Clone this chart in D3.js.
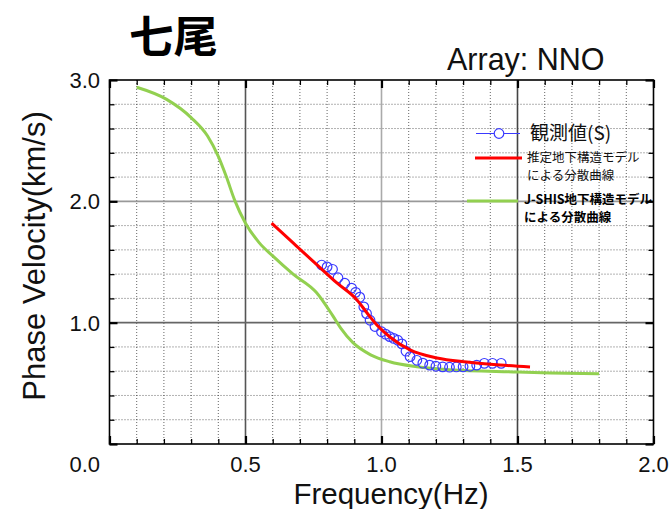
<!DOCTYPE html>
<html>
<head>
<meta charset="utf-8">
<script src="https://cdn.jsdelivr.net/npm/d3@7"></script>
<style>
  html, body { margin: 0; padding: 0; background: #fff; }
  svg { display: block; }
</style>
</head>
<body>
<svg id="chart" width="672" height="509"></svg>
<script>
// Observed phase velocities (S), frequency in Hz, velocity in km/s
const observedFreq = [0.78, 0.80, 0.82, 0.84, 0.865, 0.89, 0.905, 0.92, 0.935, 0.945, 0.958, 0.976,
  1.0, 1.015, 1.03, 1.045, 1.06, 1.075, 1.09, 1.105, 1.13, 1.152, 1.177, 1.2, 1.225, 1.25,
  1.275, 1.30, 1.325, 1.35, 1.378, 1.408, 1.44];
const observedVel = [1.475, 1.46, 1.44, 1.37, 1.325, 1.285, 1.25, 1.21, 1.13, 1.075, 1.02, 0.968,
  0.925, 0.905, 0.885, 0.87, 0.855, 0.825, 0.765, 0.72, 0.69, 0.666, 0.65, 0.641, 0.636, 0.633,
  0.635, 0.636, 0.641, 0.65, 0.665, 0.665, 0.665];

// Dispersion curve of the estimated subsurface model
const modelFreq = [0.596, 0.675, 0.763, 0.836, 0.91, 0.947, 0.983, 1.031, 1.105, 1.204, 1.314, 1.436, 1.546];
const modelVel  = [1.82, 1.657, 1.476, 1.327, 1.187, 1.08, 0.981, 0.882, 0.775, 0.709, 0.676, 0.651, 0.635];

// Dispersion curve of the J-SHIS subsurface model
const jshisFreq = [0.10, 0.21, 0.30, 0.36, 0.40, 0.43, 0.46, 0.50, 0.55, 0.60, 0.675, 0.76, 0.82,
  0.85, 0.895, 0.96, 1.03, 1.13, 1.25, 1.50, 1.62, 1.80];
const jshisVel  = [2.94, 2.84, 2.69, 2.54, 2.37, 2.20, 2.01, 1.82, 1.66, 1.55, 1.40, 1.25, 1.06,
  0.955, 0.835, 0.735, 0.678, 0.637, 0.612, 0.594, 0.586, 0.578];

// The shared 0.0 at the lower-left corner is drawn once, with the velocity labels
const xTickValues = [0.5, 1.0, 1.5, 2.0];
const yTickValues = [0.0, 1.0, 2.0, 3.0];
const titleText = "七尾";
const arrayText = "Array: NNO";
const xTitle = "Frequency(Hz)";
const yTitle = "Phase Velocity(km/s)";
const legendLabels = [["観測値(S)"], ["推定地下構造モデル", "による分散曲線"], ["J-SHIS地下構造モデル", "による分散曲線"]];

const svg = d3.select("#chart");
const pLeft = 109.5, pRight = 653.5, pTop = 80, pBottom = 444;
const x = d3.scaleLinear().domain([0, 2]).range([pLeft, pRight]);
const y = d3.scaleLinear().domain([0, 3]).range([pBottom, pTop]);

svg.append("rect").attr("width", 672).attr("height", 509).attr("fill", "#fff");

// Dotted minor grid
const isHalf = v => Math.abs(v * 2 - Math.round(v * 2)) < 1e-6;
const isWhole = v => Math.abs(v - Math.round(v)) < 1e-6;
const minorX = d3.range(1, 20).map(i => i / 10).filter(v => !isHalf(v));
const minorY = d3.range(1, 15).map(i => i / 5).filter(v => !isWhole(v));
const grid = svg.append("g");
grid.selectAll(".mx").data(minorX).join("line")
  .attr("x1", d => x(d)).attr("x2", d => x(d)).attr("y1", pTop).attr("y2", pBottom)
  .attr("stroke", "#333").attr("stroke-width", 1).attr("stroke-dasharray", "1,2").attr("opacity", 0.75);
grid.selectAll(".my").data(minorY).join("line")
  .attr("y1", d => y(d)).attr("y2", d => y(d)).attr("x1", pLeft).attr("x2", pRight)
  .attr("stroke", "#333").attr("stroke-width", 1).attr("stroke-dasharray", "1,2").attr("opacity", 0.75);

// Solid major grid
const majorX = [{v: 0.5, c: "#555"}, {v: 1.0, c: "#aaa"}, {v: 1.5, c: "#444"}];
const majorY = [{v: 1.0, c: "#666"}, {v: 2.0, c: "#999"}];
grid.selectAll(".gx").data(majorX).join("line")
  .attr("x1", d => x(d.v)).attr("x2", d => x(d.v)).attr("y1", pTop).attr("y2", pBottom)
  .attr("stroke", d => d.c).attr("stroke-width", 1.6);
grid.selectAll(".gy").data(majorY).join("line")
  .attr("y1", d => y(d.v)).attr("y2", d => y(d.v)).attr("x1", pLeft).attr("x2", pRight)
  .attr("stroke", d => d.c).attr("stroke-width", 1.6);

// Curves
const line = d3.line().x(d => x(d[0])).y(d => y(d[1])).curve(d3.curveMonotoneX);
svg.append("path").datum(d3.zip(jshisFreq, jshisVel)).attr("d", line)
  .attr("fill", "none").attr("stroke", "#92d050").attr("stroke-width", 3);

svg.append("g").selectAll("circle").data(d3.zip(observedFreq, observedVel)).join("circle")
  .attr("cx", d => x(d[0])).attr("cy", d => y(d[1])).attr("r", 4.8)
  .attr("fill", "none").attr("stroke", "#3a3aff").attr("stroke-width", 1.2);

svg.append("path").datum(d3.zip(modelFreq, modelVel)).attr("d", line)
  .attr("fill", "none").attr("stroke", "#ff0000").attr("stroke-width", 3);

// Frame with inward ticks on all sides
const xTickAll = d3.range(0, 21).map(i => i / 10);
const yTickAll = d3.range(0, 16).map(i => i / 5);
const axes = [
  {ax: d3.axisBottom(x).tickValues(xTickAll), tr: `translate(0,${pBottom})`, major: isHalf, dir: "y2"},
  {ax: d3.axisTop(x).tickValues(xTickAll), tr: `translate(0,${pTop})`, major: isHalf, dir: "y2"},
  {ax: d3.axisLeft(y).tickValues(yTickAll), tr: `translate(${pLeft},0)`, major: isWhole, dir: "x2"},
  {ax: d3.axisRight(y).tickValues(yTickAll), tr: `translate(${pRight},0)`, major: isWhole, dir: "x2"}
];
axes.forEach(a => {
  a.ax.tickFormat("").tickSizeInner(-5).tickSizeOuter(0);
  const g = svg.append("g").attr("transform", a.tr).call(a.ax);
  g.select(".domain").remove();
  g.selectAll(".tick line").attr("stroke", "#000").attr("stroke-width", 1.3);
  g.selectAll(".tick").filter(d => a.major(d)).select("line")
    .attr("stroke-width", 2.2)
    .attr(a.dir, function() { return +d3.select(this).attr(a.dir) * 1.6; });
});
svg.append("rect").attr("x", pLeft).attr("y", pTop).attr("width", pRight - pLeft).attr("height", pBottom - pTop)
  .attr("fill", "none").attr("stroke", "#000").attr("stroke-width", 1.6);

// Tick labels
const tickFont = "'Liberation Sans', Arial, sans-serif";
svg.append("g").selectAll("text").data(xTickValues).join("text")
  .attr("x", d => x(d)).attr("y", 472).attr("text-anchor", "middle")
  .attr("font-family", tickFont).attr("font-size", 22).attr("fill", "#111")
  .text(d => d3.format(".1f")(d));
svg.append("g").selectAll("text").data(yTickValues).join("text")
  .attr("x", 100).attr("y", d => d === 0 ? 472 : y(d) + 8).attr("text-anchor", "end")
  .attr("font-family", tickFont).attr("font-size", 22).attr("fill", "#111")
  .text(d => d3.format(".1f")(d));

// Axis titles
svg.append("text").attr("x", 391).attr("y", 503.5).attr("text-anchor", "middle")
  .attr("font-family", tickFont).attr("font-size", 29.5).attr("fill", "#111").text(xTitle);
svg.append("text").attr("transform", "translate(45,256) rotate(-90)").attr("text-anchor", "middle")
  .attr("font-family", tickFont).attr("font-size", 31).attr("fill", "#111").text(yTitle);

// Titles
svg.append("text").attr("x", 129).attr("y", 53)
  .attr("font-family", "'Noto Sans CJK JP', sans-serif").attr("font-weight", "bold")
  .attr("font-size", 44.5).attr("fill", "#000").text(titleText);
svg.append("text").attr("x", 447).attr("y", 70)
  .attr("font-family", tickFont).attr("font-size", 30.5).attr("fill", "#111").text(arrayText);

// Legend
const cjk = "'Noto Sans CJK JP', sans-serif";
const lg = svg.append("g");
lg.append("line").attr("x1", 476).attr("x2", 520).attr("y1", 133.5).attr("y2", 133.5)
  .attr("stroke", "#3a3aff").attr("stroke-width", 1.2);
lg.append("circle").attr("cx", 499).attr("cy", 133.5).attr("r", 4.8)
  .attr("fill", "#fff").attr("stroke", "#3a3aff").attr("stroke-width", 1.2);
lg.append("text").attr("x", 530).attr("y", 140).attr("font-family", cjk).attr("font-size", 19)
  .attr("fill", "#111").text(legendLabels[0][0]);

lg.append("line").attr("x1", 475).attr("x2", 522).attr("y1", 158).attr("y2", 158)
  .attr("stroke", "#ff0000").attr("stroke-width", 3);
lg.append("text").attr("x", 527).attr("y", 161.5).attr("font-family", cjk).attr("font-size", 12.5)
  .attr("fill", "#111")
  .selectAll("tspan").data(legendLabels[1]).join("tspan")
  .attr("x", 527).attr("dy", (d, i) => i === 0 ? 0 : 18.3).text(d => d);

lg.append("line").attr("x1", 467).attr("x2", 518).attr("y1", 201).attr("y2", 201)
  .attr("stroke", "#92d050").attr("stroke-width", 3);
lg.append("text").attr("x", 524).attr("y", 204).attr("font-family", cjk).attr("font-size", 12.5)
  .attr("font-weight", "bold").attr("fill", "#000")
  .selectAll("tspan").data(legendLabels[2]).join("tspan")
  .attr("x", 524).attr("dy", (d, i) => i === 0 ? 0 : 18.3).text(d => d);
</script>
</body>
</html>
